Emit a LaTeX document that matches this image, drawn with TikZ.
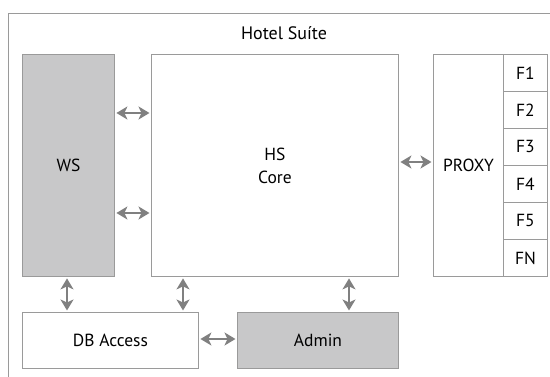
\documentclass[tikz,border=0pt]{standalone}
\usepackage{fontspec}
\setmainfont{PT Sans}
\usetikzlibrary{arrows.meta}
\definecolor{boxline}{HTML}{9A9A9A}
\definecolor{boxfill}{HTML}{C8C8C9}
\definecolor{arr}{HTML}{808080}
\begin{document}
\begin{tikzpicture}[x=1pt,y=-1pt,
  box/.style={draw=boxline,line width=0.9pt,rectangle,inner sep=0pt,anchor=north west,font=\fontsize{17.5}{23}\selectfont},
  gbox/.style={box,fill=boxfill},
  dar/.style={draw=arr,line width=1.8pt,{Stealth[length=11pt,width=13pt,inset=3pt]}-{Stealth[length=11pt,width=13pt,inset=3pt]},shorten <=1.5pt,shorten >=1.5pt}]
\useasboundingbox (0,0) rectangle (550,377);
\draw[boxline,line width=0.9pt] (8,377) -- (8,13) -- (550,13);
\node[font=\fontsize{18}{22}\selectfont] (title) at (284,33) {Hotel Suíte};
\node[gbox,minimum width=92,minimum height=222] (ws) at (22,54) {WS};
\node[box,minimum width=247,minimum height=222,align=center] (core) at (151,54) {HS\\Core};
\node[box,minimum width=70,minimum height=222] (proxy) at (433,54) {PROXY};
\foreach \i/\t in {0/F1,1/F2,2/F3,3/F4,4/F5,5/FN}{
  \node[box,minimum width=44,minimum height=37] (f\i) at (503,54+37*\i) {\t};
}
\node[box,minimum width=176,minimum height=56] (db) at (22,312) {DB Access};
\node[gbox,minimum width=161,minimum height=56] (admin) at (237,312) {Admin};
\draw[dar] (ws.east |- 0,113) -- (core.west |- 0,113);
\draw[dar] (ws.east |- 0,213) -- (core.west |- 0,213);
\draw[dar] (core.east |- 0,162) -- (proxy.west |- 0,162);
\draw[dar] (ws.south -| 67,0) -- (db.north -| 67,0);
\draw[dar] (core.south -| 183,0) -- (db.north -| 183,0);
\draw[dar] (core.south -| 349,0) -- (admin.north -| 349,0);
\draw[dar] (db.east |- 0,339) -- (admin.west |- 0,339);
\end{tikzpicture}
\end{document}
